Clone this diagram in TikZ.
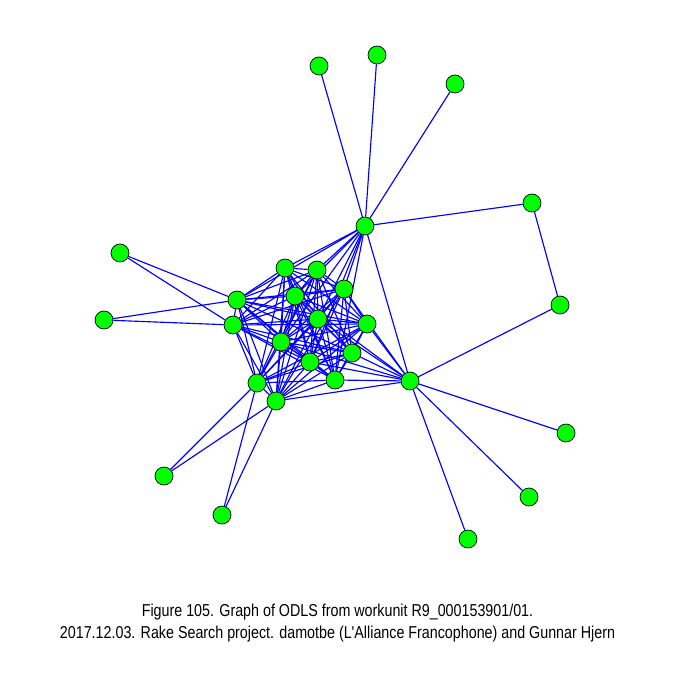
\documentclass[tikz,border=0pt]{standalone}
\usepackage{fontspec}
\newfontfamily\capfont[FakeStretch=0.83]{Liberation Sans}
\usetikzlibrary{backgrounds}

\tikzset{
    vertex/.style={circle, draw=black, fill=green, line width=0.4pt,
        minimum size=0.36cm, inner sep=0pt},
    link/.style={blue, line width=0.65pt}
}

\begin{document}
\begin{tikzpicture}[x=0.02cm, y=-0.02cm]

    \useasboundingbox (0,0) rectangle (675,675);

    %-------------------------
    % Nodi esterni
    %-------------------------
    \node[vertex] (a) at (319,66) {};
    \node[vertex] (b) at (377,55) {};
    \node[vertex] (c) at (455,84) {};
    \node[vertex] (d) at (365,226) {};
    \node[vertex] (e) at (532,203) {};
    \node[vertex] (f) at (560,305) {};
    \node[vertex] (g) at (410,381) {};
    \node[vertex] (h) at (566,433) {};
    \node[vertex] (i) at (529,497) {};
    \node[vertex] (j) at (468,539) {};
    \node[vertex] (k) at (120,253) {};
    \node[vertex] (l) at (104,320) {};
    \node[vertex] (m) at (164,476) {};
    \node[vertex] (n) at (222,515) {};

    %-------------------------
    % Nodi del gruppo centrale
    %-------------------------
    \node[vertex] (p1) at (285,268) {};
    \node[vertex] (p2) at (317,270) {};
    \node[vertex] (p3) at (344,289) {};
    \node[vertex] (p4) at (295,296) {};
    \node[vertex] (p5) at (237,300) {};
    \node[vertex] (p6) at (233,325) {};
    \node[vertex] (p7) at (318,319) {};
    \node[vertex] (p8) at (367,324) {};
    \node[vertex] (p9) at (281,342) {};
    \node[vertex] (p10) at (352,353) {};
    \node[vertex] (p11) at (310,362) {};
    \node[vertex] (p12) at (335,380) {};
    \node[vertex] (p13) at (257,383) {};
    \node[vertex] (p14) at (276,401) {};

    %-------------------------
    % Archi
    %-------------------------
    \begin{scope}[on background layer]
        % gruppo centrale
        \foreach \s in {1,...,13} {
            \pgfmathtruncatemacro\t{\s+1}
            \foreach \u in {\t,...,14}
                \draw[link] (p\s) -- (p\u);
        }

        % nodo d
        \foreach \v in {a,b,c,e,g,p1,p2,p3,p4,p5,p7,p9,p11,p12}
            \draw[link] (d) -- (\v);

        % nodo g
        \foreach \v in {f,h,i,j,p3,p4,p7,p8,p9,p10,p11,p12,p14}
            \draw[link] (g) -- (\v);

        \draw[link] (e) -- (f);

        % foglie a sinistra e in basso
        \foreach \v in {k,l} {
            \draw[link] (\v) -- (p5);
            \draw[link] (\v) -- (p6);
        }
        \foreach \v in {m,n} {
            \draw[link] (\v) -- (p13);
            \draw[link] (\v) -- (p14);
        }
    \end{scope}

    %-------------------------
    % Didascalia
    %-------------------------
    \node[font=\capfont\fontsize{9.8}{12}\selectfont, anchor=base] (cap1) at (337.5,616)
        {Figure 105. Graph of ODLS from workunit R9\_000153901/01.};
    \node[font=\capfont\fontsize{9.8}{12}\selectfont, anchor=base] (cap2) at (337.5,638)
        {2017.12.03. Rake Search project. damotbe (L'Alliance Francophone) and Gunnar Hjern};

\end{tikzpicture}
\end{document}
